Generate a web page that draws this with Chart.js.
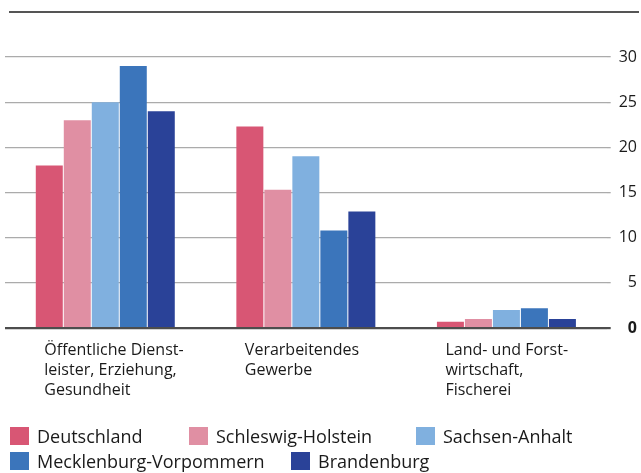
<!DOCTYPE html>
<html>
<head>
<meta charset="utf-8">
<script src="https://cdn.jsdelivr.net/npm/chart.js@4.4.1/dist/chart.umd.min.js"></script>
<style>
    body { margin: 0; background: #fff; }
    #wrap { position: relative; width: 641px; height: 473px; }
    #legend { position: absolute; left: 0; top: 0; width: 641px; height: 473px; pointer-events: none; }
    .legItem { position: absolute; display: flex; align-items: center; font-family: 'Open Sans', sans-serif; font-size: 18px; line-height: 18px; color: #1a1a1a; white-space: nowrap; }
    .legBox { width: 19px; height: 18px; margin-right: 8px; }
</style>
</head>
<body>
<div id="wrap">
    <canvas id="chart" width="641" height="473"></canvas>
    <div id="legend"></div>
</div>
<script>
var categories = [
    ['Öffentliche Dienst-', 'leister, Erziehung,', 'Gesundheit'],
    ['Verarbeitendes', 'Gewerbe'],
    ['Land- und Forst-', 'wirtschaft,', 'Fischerei']
];
var seriesNames = ['Deutschland', 'Schleswig-Holstein', 'Sachsen-Anhalt', 'Mecklenburg-Vorpommern', 'Brandenburg'];
var deutschland = [18.0, 22.3, 0.7];
var schleswigHolstein = [23.0, 15.3, 1.0];
var sachsenAnhalt = [25.0, 19.0, 2.0];
var mecklenburgVorpommern = [29.0, 10.8, 2.2];
var brandenburg = [24.0, 12.9, 1.0];
var yTicks = [0, 5, 10, 15, 20, 25, 30];

var colors = ['#d85674', '#e08fa3', '#80b0df', '#3b75bb', '#2a4298'];
var values = [deutschland, schleswigHolstein, sachsenAnhalt, mecklenburgVorpommern, brandenburg];

Chart.defaults.font.family = "'Open Sans', sans-serif";
Chart.defaults.color = '#1a1a1a';

function makeDataset(i){
    return {
        label: seriesNames[i],
        data: values[i],
        backgroundColor: colors[i],
        borderWidth: 0,
        categoryPercentage: 0.698,
        barPercentage: 0.964
    };
}

var datasets = [];
for(var i = 0; i < seriesNames.length; i++){
    datasets.push(makeDataset(i));
}

// dark line across the top of the chart
var topLine = {
    id: 'topLine',
    afterDraw: function(chart){
        var ctx = chart.ctx;
        ctx.save();
        ctx.strokeStyle = '#555555';
        ctx.lineWidth = 2;
        ctx.beginPath();
        ctx.moveTo(9, 12);
        ctx.lineTo(639, 12);
        ctx.stroke();
        ctx.restore();
    }
};

// category labels are not placed the same way under each group
var labelShift = [-69, -58, -57];

var chart = new Chart(document.getElementById('chart').getContext('2d'), {
    type: 'bar',
    data: {
        labels: categories,
        datasets: datasets
    },
    options: {
        responsive: false,
        animation: false,
        layout: { padding: { left: 5, right: 4, top: 57, bottom: 73 } },
        plugins: {
            legend: { display: false },
            tooltip: { enabled: false }
        },
        scales: {
            x: {
                grid: { display: false, drawTicks: true, tickLength: 12 },
                border: { display: false },
                afterFit: function(scale){
                    // labels hang to the right, don't let them squeeze the plot
                    scale.paddingLeft = 0;
                    scale.paddingRight = 0;
                },
                ticks: {
                    padding: 0,
                    align: 'start',
                    maxRotation: 0,
                    autoSkip: false,
                    labelOffset: function(c){
                        var s = labelShift[c.index];
                        return typeof s === 'number' ? s : -61;
                    },
                    font: { size: 16, lineHeight: 1.25 },
                    color: '#1a1a1a'
                }
            },
            y: {
                position: 'right',
                min: 0,
                max: 30,
                afterBuildTicks: function(scale){
                    scale.ticks = yTicks.map(function(v){ return { value: v }; });
                },
                grid: {
                    color: function(c){ return c.tick && c.tick.value === 0 ? '#4d4d4d' : '#ababab'; },
                    lineWidth: function(c){ return c.tick && c.tick.value === 0 ? 2.2 : 1.3; },
                    drawTicks: true,
                    tickLength: 4
                },
                border: { display: false },
                ticks: {
                    padding: 4,
                    crossAlign: 'far',
                    color: '#1a1a1a',
                    font: function(c){
                        return { size: 16, weight: c.tick && c.tick.value === 0 ? 'bold' : 'normal' };
                    }
                }
            }
        }
    },
    plugins: [topLine]
});

// html legend built from the chart datasets
var legendRows = [[0, 1, 2], [3, 4]];
var rowTops = [427, 452];
var slotLeft = [[10, 189, 416], [10, 291]];
var legend = document.getElementById('legend');
legendRows.forEach(function(row, r){
    row.forEach(function(idx, k){
        var ds = chart.data.datasets[idx];
        var item = document.createElement('div');
        item.className = 'legItem';
        item.style.left = slotLeft[r][k] + 'px';
        item.style.top = rowTops[r] + 'px';
        var box = document.createElement('span');
        box.className = 'legBox';
        box.style.background = ds.backgroundColor;
        var txt = document.createElement('span');
        txt.innerText = ds.label;
        item.appendChild(box);
        item.appendChild(txt);
        legend.appendChild(item);
    });
});
</script>
</body>
</html>
